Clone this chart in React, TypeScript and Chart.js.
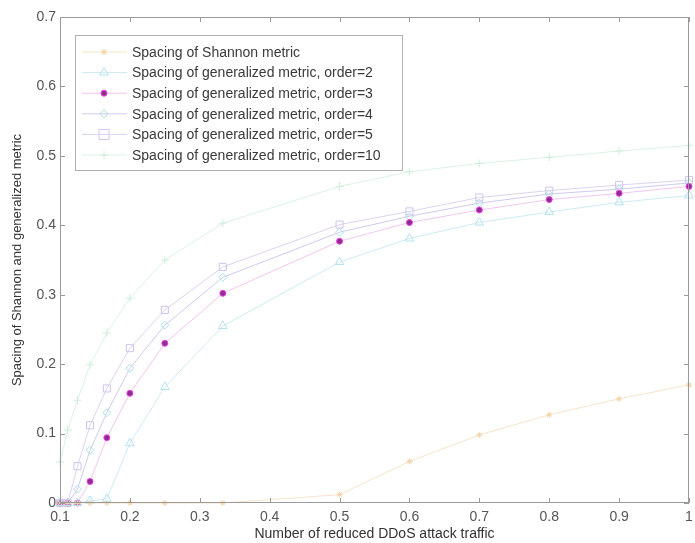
import React, { useEffect, useRef } from "react";
import { Chart, registerables } from "chart.js";

Chart.register(...registerables);

const xValues = [0.1, 0.111, 0.125, 0.143, 0.167, 0.2, 0.25, 0.333, 0.5, 0.6, 0.7, 0.8, 0.9, 1];
const shannon = [0, 0, 0, 0, 0, 0, 0, 0, 0.012, 0.06, 0.098, 0.127, 0.15, 0.17];
const order2 = [0, 0, 0, 0.003, 0.006, 0.086, 0.167, 0.255, 0.347, 0.381, 0.404, 0.419, 0.433, 0.443];
const order3 = [0, 0, 0, 0.031, 0.094, 0.158, 0.23, 0.302, 0.377, 0.404, 0.422, 0.437, 0.446, 0.456];
const order4 = [0, 0, 0.02, 0.076, 0.13, 0.194, 0.256, 0.325, 0.39, 0.413, 0.432, 0.445, 0.452, 0.461];
const order5 = [0, 0, 0.053, 0.112, 0.165, 0.223, 0.278, 0.34, 0.401, 0.42, 0.44, 0.45, 0.458, 0.465];
const order10 = [0.059, 0.105, 0.148, 0.199, 0.245, 0.295, 0.35, 0.403, 0.456, 0.477, 0.489, 0.498, 0.507, 0.515];
const xTicks = [0.1, 0.2, 0.3, 0.4, 0.5, 0.6, 0.7, 0.8, 0.9, 1];
const yTicks = [0, 0.1, 0.2, 0.3, 0.4, 0.5, 0.6, 0.7];
const seriesLabels = [
  "Spacing of Shannon metric",
  "Spacing of generalized metric, order=2",
  "Spacing of generalized metric, order=3",
  "Spacing of generalized metric, order=4",
  "Spacing of generalized metric, order=5",
  "Spacing of generalized metric, order=10",
];

const FONT = "'Liberation Sans', Arial, sans-serif";
const fmt = (v: number) => String(Number(v.toFixed(1)));

function drawMarker(ctx: CanvasRenderingContext2D, style: string, r: number, x: number, y: number) {
  ctx.beginPath();
  if (style === "circle") {
    ctx.arc(x, y, r, 0, Math.PI * 2);
    ctx.fill();
    ctx.stroke();
  } else if (style === "rect") {
    ctx.rect(x - r, y - r, 2 * r, 2 * r);
    ctx.stroke();
  } else if (style === "triangle") {
    ctx.moveTo(x, y - r);
    ctx.lineTo(x + r * 0.87, y + r * 0.5);
    ctx.lineTo(x - r * 0.87, y + r * 0.5);
    ctx.closePath();
    ctx.stroke();
  } else if (style === "rectRot") {
    ctx.moveTo(x, y - r);
    ctx.lineTo(x + r, y);
    ctx.lineTo(x, y + r);
    ctx.lineTo(x - r, y);
    ctx.closePath();
    ctx.stroke();
  } else if (style === "star") {
    for (let k = 0; k < 4; k++) {
      const a = (k * Math.PI) / 4;
      ctx.moveTo(x - r * Math.cos(a), y - r * Math.sin(a));
      ctx.lineTo(x + r * Math.cos(a), y + r * Math.sin(a));
    }
    ctx.stroke();
  } else {
    ctx.moveTo(x - r, y);
    ctx.lineTo(x + r, y);
    ctx.moveTo(x, y - r);
    ctx.lineTo(x, y + r);
    ctx.stroke();
  }
}

const framePlugin = {
  id: "matlabFrame",
  afterDraw(chart: any) {
    const { ctx, chartArea } = chart;
    const { left, right, top, bottom } = chartArea;
    const xs = chart.scales.x;
    const ys = chart.scales.y;
    ctx.save();
    ctx.strokeStyle = "#9a9a9a";
    ctx.lineWidth = 1;
    ctx.strokeRect(left + 0.5, top + 0.5, right - left - 1, bottom - top - 1);
    ctx.beginPath();
    const tl = 5;
    xTicks.forEach((t) => {
      const px = Math.round(xs.getPixelForValue(t)) + 0.5;
      ctx.moveTo(px, bottom);
      ctx.lineTo(px, bottom - tl);
      ctx.moveTo(px, top);
      ctx.lineTo(px, top + tl);
    });
    yTicks.forEach((t) => {
      const py = Math.round(ys.getPixelForValue(t)) + 0.5;
      ctx.moveTo(left, py);
      ctx.lineTo(left + tl, py);
      ctx.moveTo(right, py);
      ctx.lineTo(right - tl, py);
    });
    ctx.stroke();

    // legend
    const bx = 75, by = 35, bw = 327, bh = 135;
    ctx.fillStyle = "#ffffff";
    ctx.fillRect(bx, by, bw, bh);
    ctx.strokeStyle = "#b0b0b0";
    ctx.strokeRect(bx + 0.5, by + 0.5, bw, bh);
    ctx.font = "14px " + FONT;
    ctx.textBaseline = "middle";
    ctx.textAlign = "left";
    chart.data.datasets.forEach((ds: any, i: number) => {
      const y = 52 + i * 20.6;
      ctx.strokeStyle = ds.borderColor;
      ctx.lineWidth = ds.borderWidth;
      ctx.beginPath();
      ctx.moveTo(82, y);
      ctx.lineTo(127, y);
      ctx.stroke();
      ctx.fillStyle = ds.pointBackgroundColor;
      ctx.strokeStyle = ds.pointBorderColor;
      ctx.lineWidth = ds.pointBorderWidth;
      drawMarker(ctx, ds.pointStyle, ds.pointRadius, 104, y);
      ctx.fillStyle = "#3a3a3a";
      ctx.fillText(seriesLabels[i], 132, y + 1);
    });
    ctx.restore();
  },
};

function mk(label: string, values: number[], color: string, ptColor: string, style: string, radius: number, fill: string) {
  return {
    label,
    data: values.map((v, i) => ({ x: xValues[i], y: v })),
    borderColor: color,
    borderWidth: 1,
    pointStyle: style,
    pointRadius: radius,
    pointBorderColor: ptColor,
    pointBackgroundColor: fill,
    pointBorderWidth: 1,
    tension: 0,
    clip: false as any,
  };
}

export default function App() {
  const ref = useRef<HTMLCanvasElement | null>(null);
  useEffect(() => {
    if (!ref.current) return;
    const chart = new Chart(ref.current, {
      type: "line",
      data: {
        datasets: [
          mk(seriesLabels[0], shannon, "#f8e4c8", "#f2d2a6", "star", 3, "rgba(0,0,0,0)"),
          mk(seriesLabels[1], order2, "#cdebf5", "#b4e2f1", "triangle", 5, "rgba(0,0,0,0)"),
          mk(seriesLabels[2], order3, "#f2c6f0", "#f040f0", "circle", 3, "#902c8a"),
          mk(seriesLabels[3], order4, "#cfcaee", "#a6e0e8", "rectRot", 4, "rgba(0,0,0,0)"),
          mk(seriesLabels[4], order5, "#ddd2f0", "#d0c4ec", "rect", 5, "rgba(0,0,0,0)"),
          mk(seriesLabels[5], order10, "#daf3e3", "#cdeed9", "cross", 4, "rgba(0,0,0,0)"),
        ],
      },
      options: {
        animation: false,
        responsive: false,
        layout: { padding: { left: 10, right: 5, top: 17, bottom: 0 } },
        plugins: { legend: { display: false }, tooltip: { enabled: false } },
        scales: {
          x: {
            type: "linear",
            min: 0.1,
            max: 1,
            afterBuildTicks: (s: any) => {
              s.ticks = xTicks.map((v) => ({ value: v }));
            },
            afterFit: (s: any) => {
              s.height = 40;
              s.paddingRight = 0;
              s.paddingLeft = 0;
            },
            grid: { display: false, drawTicks: false },
            border: { display: false },
            ticks: {
              callback: (v: any) => fmt(Number(v)),
              color: "#555",
              font: { size: 14, family: FONT },
              padding: 6,
              maxRotation: 0,
            },
            title: {
              display: true,
              text: "Number of reduced DDoS attack traffic",
              color: "#333",
              font: { size: 14, family: FONT },
              padding: { top: 0, bottom: 0 },
            },
          },
          y: {
            type: "linear",
            min: 0,
            max: 0.7,
            afterBuildTicks: (s: any) => {
              s.ticks = yTicks.map((v) => ({ value: v }));
            },
            afterFit: (s: any) => {
              s.width = 50;
              s.paddingTop = 0;
              s.paddingBottom = 0;
            },
            grid: { display: false, drawTicks: false },
            border: { display: false },
            ticks: {
              callback: (v: any) => fmt(Number(v)),
              color: "#555",
              font: { size: 14, family: FONT },
              padding: 4,
            },
            title: {
              display: true,
              text: "Spacing of Shannon and generalized metric",
              color: "#333",
              font: { size: 13, family: FONT },
              padding: { top: 0, bottom: 0 },
            },
          },
        },
      },
      plugins: [framePlugin],
    });
    return () => chart.destroy();
  }, []);
  return (
    <canvas
      ref={ref}
      width={695}
      height={543}
      style={{ position: "fixed", left: 0, top: 0, width: 695, height: 543, background: "#fff" }}
    />
  );
}
